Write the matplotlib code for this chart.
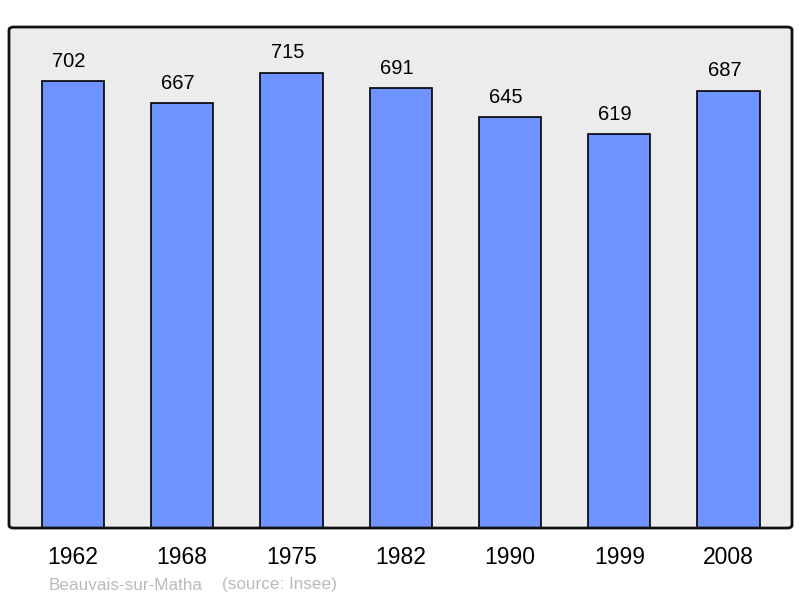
import matplotlib.pyplot as plt
from matplotlib.patches import FancyBboxPatch

plt.rcParams["font.family"] = ["Liberation Sans", "DejaVu Sans"]

years = ["1962", "1968", "1975", "1982", "1990", "1999", "2008"]
population = [702, 667, 715, 691, 645, 619, 687]

fig = plt.figure(figsize=(8, 5.98), dpi=100)
ax = fig.add_axes([0.01125, 0.117, 0.97875, 0.8378])
ax.set_facecolor("#ececec")

x = list(range(len(years)))
bars = ax.bar(x, population, width=0.57, color="#7094ff",
              edgecolor="black", linewidth=1.2, zorder=2)

for xi, v in zip(x, population):
    ax.annotate(str(v), (xi, v), xytext=(-3, 7.5), textcoords="offset points",
                ha="center", va="bottom", fontsize=14.5)

ax.set_xlim(-0.585, 6.58)
ax.set_ylim(0, 787)
ax.set_yticks([])
ax.set_xticks(x)
ax.set_xticklabels(years, fontsize=16.5)
ax.tick_params(axis="x", length=0, pad=13)

for s in ax.spines.values():
    s.set_visible(False)

# rounded frame around the plot area
frame = FancyBboxPatch((0, 0), 1, 1, boxstyle="round,pad=0,rounding_size=0.006",
                       transform=ax.transAxes, fill=False, edgecolor="#111111",
                       linewidth=2, zorder=5, clip_on=False)
ax.add_patch(frame)

fig.text(49 / 800, 1 - 585 / 598, "Beauvais-sur-Matha", color="#bbbbbb",
         fontsize=12.3, va="center", ha="left")
fig.text(222 / 800, 1 - 585 / 598, "(source: Insee)", color="#bbbbbb",
         fontsize=12.3, va="center", ha="left")

fig.savefig("out.png", dpi=100)
